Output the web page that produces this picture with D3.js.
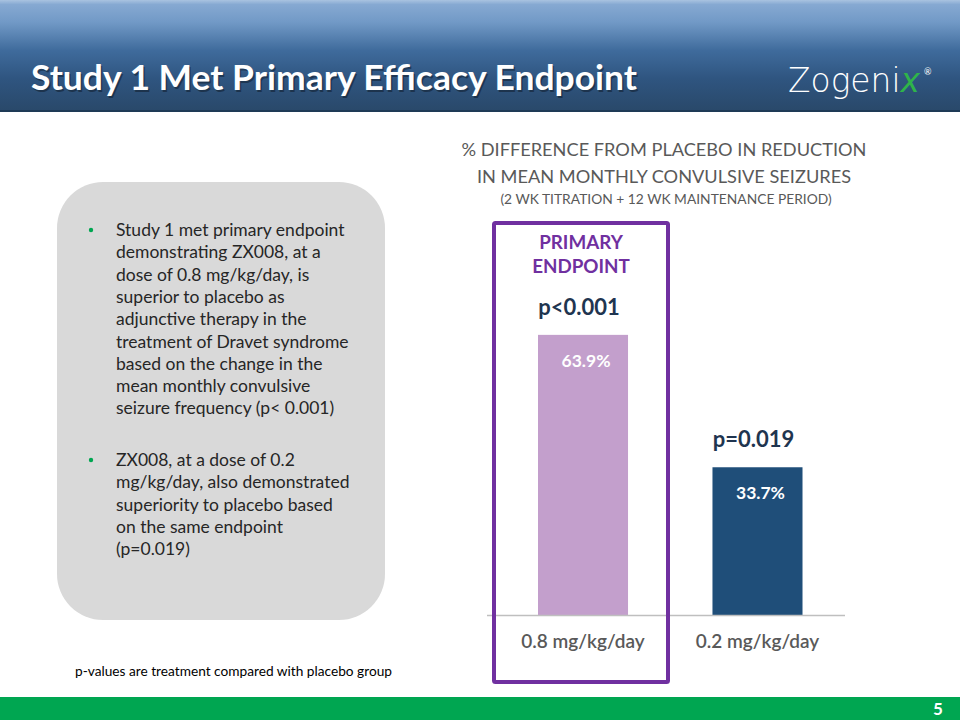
<!DOCTYPE html>
<html><head><meta charset="utf-8">
<script src="https://cdn.jsdelivr.net/npm/d3@7"></script>
<style>html,body{margin:0;padding:0;background:#fff;}svg{display:block;}</style>
</head><body>
<script>
const categories = ["0.8 mg/kg/day", "0.2 mg/kg/day"];
const values = [63.9, 33.7];
const valueLabels = ["63.9%", "33.7%"];
const pValues = ["p<0.001", "p=0.019"];
const barColors = ["#c39fcc", "#1f4e79"];
const titleLines = ["% DIFFERENCE FROM PLACEBO IN REDUCTION", "IN MEAN MONTHLY CONVULSIVE SEIZURES"];
const subtitle = "(2 WK TITRATION + 12 WK MAINTENANCE PERIOD)";
const bullet1 = ["Study 1 met primary endpoint","demonstrating ZX008, at a","dose of 0.8 mg/kg/day, is","superior to placebo as","adjunctive therapy in the","treatment of Dravet syndrome","based on the change in the","mean monthly convulsive","seizure frequency (p< 0.001)"];
const bullet2 = ["ZX008, at a dose of 0.2","mg/kg/day, also demonstrated","superiority to placebo based","on the same endpoint","(p=0.019)"];

const W = 960, H = 720;
const FONT = "Lato, 'Open Sans', sans-serif";
const svg = d3.select("body").append("svg").attr("width", W).attr("height", H);
const defs = svg.append("defs");
const g1 = defs.append("linearGradient").attr("id","hdr").attr("x1",0).attr("y1",0).attr("x2",0).attr("y2",1);
[[0,"#a9c3e0"],[0.04,"#86a9d2"],[0.2,"#7199c6"],[0.45,"#3f6b9c"],[0.7,"#2f5580"],[1,"#294869"]].forEach(s=>g1.append("stop").attr("offset",s[0]).attr("stop-color",s[1]));

// header
svg.append("rect").attr("x",0).attr("y",0).attr("width",W).attr("height",112).attr("fill","url(#hdr)");
svg.append("rect").attr("x",0).attr("y",110).attr("width",W).attr("height",2).attr("fill","#1e3a56");
svg.append("text").attr("x",31).attr("y",90).attr("fill","#000").attr("opacity",0.35)
  .attr("font-family",FONT).attr("font-weight",700).attr("font-size",34)
  .attr("textLength",606).attr("lengthAdjust","spacingAndGlyphs")
  .text("Study 1 Met Primary Efficacy Endpoint").attr("transform","translate(1.5,1.5)");
svg.append("text").attr("x",31).attr("y",90).attr("fill","#fff")
  .attr("font-family",FONT).attr("font-weight",700).attr("font-size",34)
  .attr("textLength",606).attr("lengthAdjust","spacingAndGlyphs")
  .text("Study 1 Met Primary Efficacy Endpoint");
// logo
const logo = svg.append("text").attr("x",788).attr("y",92).attr("font-family","'DejaVu Sans', sans-serif").attr("font-weight",300).attr("font-size",33).attr("fill","#fff")
  .attr("textLength",132).attr("lengthAdjust","spacingAndGlyphs");
logo.append("tspan").text("Zogeni");
logo.append("tspan").attr("fill","#2fb44a").attr("font-style","italic").text("x");
svg.append("text").attr("x",924).attr("y",75).attr("font-family",FONT).attr("font-size",9).attr("fill","#fff").text("®");

// left grey box
svg.append("rect").attr("x",57).attr("y",182).attr("width",328).attr("height",438).attr("rx",46).attr("ry",46).attr("fill","#d9d9d9");
const textStyle = sel => sel.attr("font-family",FONT).attr("font-size",17.5).attr("fill","#262626");
function bullet(lines, y0){
  svg.append("circle").attr("cx",91).attr("cy",y0-6).attr("r",2.2).attr("fill","#00a651");
  lines.forEach((l,i)=> textStyle(svg.append("text").attr("x",116).attr("y",y0+i*22.3)).text(l));
}
bullet(bullet1, 236);
bullet(bullet2, 466);

svg.append("text").attr("x",75).attr("y",676).attr("font-family",FONT).attr("font-size",13).attr("fill","#000")
  .attr("textLength",317).attr("lengthAdjust","spacingAndGlyphs").text("p-values are treatment compared with placebo group");

// chart titles
titleLines.forEach((t,i)=> svg.append("text").attr("x",664).attr("y",156+i*27).attr("text-anchor","middle")
  .attr("font-family",FONT).attr("font-size",18.2).attr("fill","#595959").text(t));
svg.append("text").attr("x",666).attr("y",204).attr("text-anchor","middle")
  .attr("font-family",FONT).attr("font-size",13.8).attr("fill","#595959").text(subtitle);

// chart
const baseY = 615;
const x = d3.scaleBand().domain(categories).range([496, 844.5]).paddingInner(0.484).paddingOuter(0.2407);
const y = d3.scaleLinear().domain([0, 70]).range([baseY, baseY - 70*4.384]);

svg.selectAll("rect.bar").data(categories).enter().append("rect").attr("class","bar")
  .attr("x", d=>x(d)).attr("width", x.bandwidth())
  .attr("y", (d,i)=>y(values[i])).attr("height",(d,i)=>y(0)-y(values[i]))
  .attr("fill",(d,i)=>barColors[i]);

// axis line
const axis = svg.append("g").attr("transform",`translate(0,${baseY})`).call(d3.axisBottom(x).tickSize(0).tickPadding(0));
axis.select(".domain").attr("stroke","#bfbfbf").attr("stroke-width",1.5).attr("d","M487,0.5H845");
axis.selectAll(".tick text").attr("dy",0).attr("y",33).attr("font-family",FONT).attr("font-size",19).attr("font-weight",600).attr("fill","#595959");

svg.selectAll("text.val").data(categories).enter().append("text").attr("class","val")
  .attr("x", d=>x(d)+x.bandwidth()/2+3).attr("y",(d,i)=>y(values[i])+32)
  .attr("text-anchor","middle").attr("font-family",FONT).attr("font-weight",700).attr("font-size",17.5).attr("fill","#fff")
  .text((d,i)=>valueLabels[i]);
svg.selectAll("text.pv").data(categories).enter().append("text").attr("class","pv")
  .attr("x", d=>x(d)+x.bandwidth()/2-4).attr("y",(d,i)=>y(values[i])-20)
  .attr("text-anchor","middle").attr("font-family",FONT).attr("font-weight",700).attr("font-size",22).attr("fill","#1f3550")
  .text((d,i)=>pValues[i]);

// primary endpoint box
svg.append("rect").attr("x",494).attr("y",223).attr("width",174).attr("height",459).attr("fill","none").attr("stroke","#7030a0").attr("stroke-width",4).attr("rx",1.5);
["PRIMARY","ENDPOINT"].forEach((t,i)=> svg.append("text").attr("x",581).attr("y",249+i*24).attr("text-anchor","middle")
  .attr("font-family",FONT).attr("font-weight",700).attr("font-size",18.8).attr("fill","#7030a0").text(t));

// footer
svg.append("rect").attr("x",0).attr("y",697).attr("width",W).attr("height",23).attr("fill","#00a651");
svg.append("text").attr("x",938).attr("y",715).attr("text-anchor","middle").attr("font-family",FONT).attr("font-weight",700).attr("font-size",17).attr("fill","#fff").text("5");
</script>
</body></html>
